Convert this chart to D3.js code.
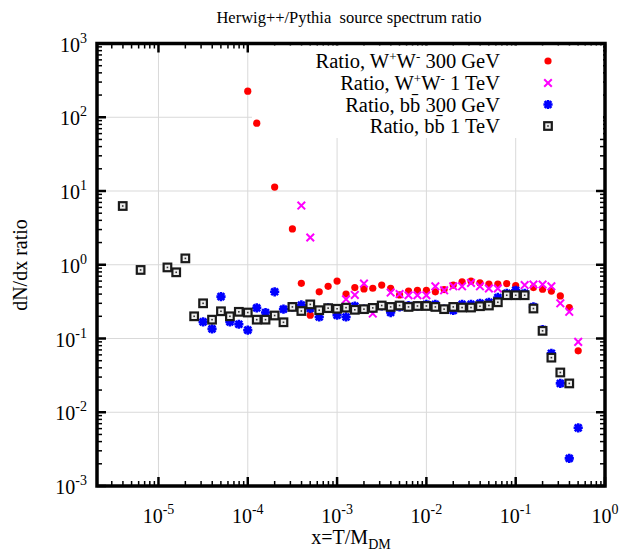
<!DOCTYPE html>
<html><head><meta charset="utf-8">
<script src="https://cdn.jsdelivr.net/npm/d3@7"></script>
<style>
body{margin:0;background:#fff}
svg{display:block}
text{font-family:"Liberation Serif","Times New Roman",serif;fill:#000;white-space:pre}
</style>
</head><body>
<svg id="c" width="632" height="555"></svg>
<script>
// ---- data (x = T/M_DM, y = dN/dx ratio) ----
const wwLow = [[1.00e-4,226],[1.26e-4,83],[2.00e-4,11.3],[3.16e-4,3.06],[3.98e-4,0.56],[5.01e-4,0.207],[6.31e-4,0.43],[7.94e-4,0.51],[1.00e-3,0.60],[1.26e-3,0.40],[1.58e-3,0.49],[2.00e-3,0.47],[2.51e-3,0.48],[3.16e-3,0.53],[3.98e-3,0.48],[5.01e-3,0.39],[6.31e-3,0.44],[7.94e-3,0.45],[1.00e-2,0.45],[1.26e-2,0.43],[1.58e-2,0.46],[2.00e-2,0.53],[2.51e-2,0.585],[3.16e-2,0.60],[3.98e-2,0.567],[5.01e-2,0.545],[6.31e-2,0.545],[7.94e-2,0.556],[1.00e-1,0.52],[1.58e-1,0.49],[2.00e-1,0.466],[2.51e-1,0.44],[3.16e-1,0.378],[3.98e-1,0.263],[5.01e-1,0.068]];
const wwHigh = [[3.98e-4,6.34],[5.01e-4,2.34],[1.26e-3,0.34],[1.58e-3,0.39],[2.00e-3,0.556],[2.51e-3,0.218],[3.98e-3,0.42],[5.01e-3,0.40],[6.31e-3,0.386],[7.94e-3,0.386],[1.00e-2,0.386],[1.26e-2,0.51],[1.58e-2,0.45],[2.00e-2,0.51],[2.51e-2,0.51],[3.16e-2,0.567],[3.98e-2,0.51],[5.01e-2,0.476],[6.31e-2,0.476],[1.26e-1,0.53],[1.58e-1,0.54],[2.00e-1,0.54],[2.51e-1,0.51],[3.16e-1,0.30],[3.98e-1,0.23],[5.01e-1,0.09]];
const bbLow = [[3.16e-5,0.168],[3.98e-5,0.135],[5.01e-5,0.37],[6.31e-5,0.168],[7.94e-5,0.156],[1.00e-4,0.13],[1.26e-4,0.26],[1.58e-4,0.225],[2.00e-4,0.43],[2.51e-4,0.25],[3.16e-4,0.268],[3.98e-4,0.285],[5.01e-4,0.255],[6.31e-4,0.196],[7.94e-4,0.26],[1.00e-3,0.207],[1.26e-3,0.196],[1.58e-3,0.275],[2.00e-3,0.25],[2.51e-3,0.26],[3.16e-3,0.276],[3.98e-3,0.225],[5.01e-3,0.268],[6.31e-3,0.28],[7.94e-3,0.276],[1.00e-2,0.29],[1.26e-2,0.29],[1.58e-2,0.25],[2.00e-2,0.24],[2.51e-2,0.29],[3.16e-2,0.29],[3.98e-2,0.30],[5.01e-2,0.31],[6.31e-2,0.36],[7.94e-2,0.41],[1.00e-1,0.45],[1.26e-1,0.41],[1.58e-1,0.268],[2.00e-1,0.132],[2.51e-1,0.063],[3.16e-1,0.0246],[3.98e-1,0.00237],[5.01e-1,0.00615]];
const bbHigh = [[3.98e-6,6.26],[6.31e-6,0.85],[1.26e-5,0.92],[1.58e-5,0.79],[2.00e-5,1.22],[2.51e-5,0.20],[3.16e-5,0.30],[3.98e-5,0.18],[5.01e-5,0.234],[6.31e-5,0.20],[7.94e-5,0.23],[1.00e-4,0.225],[1.26e-4,0.18],[1.58e-4,0.18],[2.00e-4,0.205],[2.51e-4,0.166],[3.16e-4,0.268],[3.98e-4,0.236],[5.01e-4,0.29],[6.31e-4,0.242],[7.94e-4,0.258],[1.00e-3,0.253],[1.26e-3,0.262],[1.58e-3,0.245],[2.00e-3,0.25],[2.51e-3,0.26],[3.16e-3,0.28],[3.98e-3,0.268],[5.01e-3,0.28],[6.31e-3,0.268],[7.94e-3,0.276],[1.00e-2,0.276],[1.26e-2,0.268],[1.58e-2,0.25],[2.00e-2,0.268],[2.51e-2,0.263],[3.16e-2,0.263],[3.98e-2,0.274],[5.01e-2,0.28],[6.31e-2,0.31],[7.94e-2,0.386],[1.00e-1,0.386],[1.26e-1,0.386],[1.58e-1,0.255],[2.00e-1,0.127],[2.51e-1,0.055],[3.16e-1,0.0346],[3.98e-1,0.0246]];

const xTickExps = [-5, -4, -3, -2, -1, 0];
const yTickExps = [-3, -2, -1, 0, 1, 2, 3];
const legendLabels = [
  ["Ratio, W", ["+"], "W", ["-"], " 300 GeV"],
  ["Ratio, W", ["+"], "W", ["-"], " 1 TeV"],
  ["Ratio, bb\u0304 300 GeV"],
  ["Ratio, bb\u0304 1 TeV"]
];
const titleText = "Herwig++/Pythia  source spectrum ratio";

// ---- layout ----
const L = 97, R = 605, T = 43.5, B = 486;
const svg = d3.select("#c");
const x = d3.scaleLog().domain([2.05e-6, 1]).range([L, R]);
const y = d3.scaleLog().domain([1e-3, 1e3]).range([B, T]);

// grid
const grid = svg.append("g").attr("stroke", "#d9d9d9").attr("stroke-width", 1);
xTickExps.forEach(e => {
  const v = Math.pow(10, e);
  grid.append("line").attr("x1", x(v)).attr("x2", x(v)).attr("y1", T).attr("y2", B);
});
yTickExps.forEach(e => {
  const v = Math.pow(10, e);
  grid.append("line").attr("x1", L).attr("x2", R).attr("y1", y(v)).attr("y2", y(v));
});

// minor / major ticks
const tk = svg.append("g").attr("stroke", "#000");
function minors(lo, hi) {
  const out = [];
  for (let e = lo; e < hi; e++) for (let m = 2; m <= 9; m++) out.push(m * Math.pow(10, e));
  return out;
}
minors(-6, 0).filter(v => v > x.domain()[0]).forEach(v => {
  const px = x(v);
  tk.append("line").attr("x1", px).attr("x2", px).attr("y1", B).attr("y2", B - 5).attr("stroke-width", 1.5);
  tk.append("line").attr("x1", px).attr("x2", px).attr("y1", T).attr("y2", T + 5).attr("stroke-width", 1.5);
});
xTickExps.forEach(e => {
  const px = x(Math.pow(10, e));
  tk.append("line").attr("x1", px).attr("x2", px).attr("y1", B).attr("y2", B - 9).attr("stroke-width", 2.5);
  tk.append("line").attr("x1", px).attr("x2", px).attr("y1", T).attr("y2", T + 9).attr("stroke-width", 2.5);
});
minors(-3, 3).forEach(v => {
  const py = y(v);
  tk.append("line").attr("x1", L).attr("x2", L + 5).attr("y1", py).attr("y2", py).attr("stroke-width", 1.5);
  tk.append("line").attr("x1", R).attr("x2", R - 5).attr("y1", py).attr("y2", py).attr("stroke-width", 1.5);
});
yTickExps.forEach(e => {
  const py = y(Math.pow(10, e));
  tk.append("line").attr("x1", L).attr("x2", L + 9).attr("y1", py).attr("y2", py).attr("stroke-width", 2.5);
  tk.append("line").attr("x1", R).attr("x2", R - 9).attr("y1", py).attr("y2", py).attr("stroke-width", 2.5);
});

// legend background (opaque key)
svg.append("rect").attr("x", 252).attr("y", T + 2).attr("width", R - 252 - 2).attr("height", 138 - T - 2).attr("fill", "#fff");

// markers
const pts = svg.append("g");
function drawCircle(g, d) {
  g.selectAll(null).data(d).join("circle")
    .attr("cx", p => x(p[0])).attr("cy", p => y(p[1])).attr("r", 3.6).attr("fill", "#ff0000");
}
function crossPath(s) { return `M${-s},${-s}L${s},${s}M${-s},${s}L${s},${-s}`; }
function drawX(g, d) {
  g.selectAll(null).data(d).join("path")
    .attr("transform", p => `translate(${x(p[0])},${y(p[1])})`)
    .attr("d", crossPath(3.8)).attr("stroke", "#ff00ff").attr("stroke-width", 2).attr("fill", "none");
}
function drawStar(g, d) {
  g.selectAll(null).data(d).join("path")
    .attr("transform", p => `translate(${x(p[0])},${y(p[1])})`)
    .attr("d", crossPath(3.4) + "M-4.6,0L4.6,0M0,-4.6L0,4.6").attr("stroke", "#0000ff").attr("stroke-width", 2.6).attr("fill", "none");
}
function drawBox(g, d) {
  const s = g.selectAll(null).data(d).join("g")
    .attr("transform", p => `translate(${x(p[0])},${y(p[1])})`);
  s.append("rect").attr("x", -3.8).attr("y", -3.8).attr("width", 7.6).attr("height", 7.6)
    .attr("fill", "#eee").attr("stroke", "#1a1a1a").attr("stroke-width", 2.2);
  s.append("rect").attr("x", -0.8).attr("y", -0.8).attr("width", 1.6).attr("height", 1.6).attr("fill", "#333");
}
drawCircle(pts, wwLow);
drawX(pts, wwHigh);
drawStar(pts, bbLow);
drawBox(pts, bbHigh);

// frame
svg.append("rect").attr("x", L).attr("y", T).attr("width", R - L).attr("height", B - T)
  .attr("fill", "none").attr("stroke", "#000").attr("stroke-width", 3.5);

// tick labels
function powLabel(sel, e) {
  sel.append("tspan").text("10");
  sel.append("tspan").attr("dy", -9).attr("font-size", 14).text(String(e));
}
xTickExps.forEach(e => {
  const t = svg.append("text").attr("x", x(Math.pow(10, e))).attr("y", 523)
    .attr("text-anchor", "middle").attr("font-size", 20);
  powLabel(t, e);
});
yTickExps.forEach(e => {
  const t = svg.append("text").attr("x", 87).attr("y", y(Math.pow(10, e)) + 8)
    .attr("text-anchor", "end").attr("font-size", 20);
  powLabel(t, e);
});

// axis titles
const xl = svg.append("text").attr("x", 351).attr("y", 544).attr("text-anchor", "middle").attr("font-size", 20);
xl.append("tspan").text("x=T/M");
xl.append("tspan").attr("dy", 5).attr("font-size", 14).text("DM");
svg.append("text").attr("transform", "translate(27,265) rotate(-90)").attr("text-anchor", "middle")
  .attr("font-size", 20).text("dN/dx ratio");
svg.append("text").attr("x", 349).attr("y", 23).attr("text-anchor", "middle").attr("font-size", 16.5)
  .text(titleText);

// legend
const rowsY = [61, 83, 104.5, 126];
const lg = svg.append("g");
legendLabels.forEach((parts, i) => {
  const t = lg.append("text").attr("x", 500).attr("y", rowsY[i] + 7).attr("text-anchor", "end").attr("font-size", 20.5);
  let shift = 0;
  parts.forEach(p => {
    if (Array.isArray(p)) {
      t.append("tspan").attr("dy", -7 - shift).attr("font-size", 13).text(p[0]);
      shift = -7;
    } else {
      t.append("tspan").attr("dy", -shift).text(p);
      shift = 0;
    }
  });
});
const lx = x.invert(548);
drawCircle(lg, [[lx, y.invert(rowsY[0])]]);
drawX(lg, [[lx, y.invert(rowsY[1])]]);
drawStar(lg, [[lx, y.invert(rowsY[2])]]);
drawBox(lg, [[lx, y.invert(rowsY[3])]]);
</script>
</body></html>
